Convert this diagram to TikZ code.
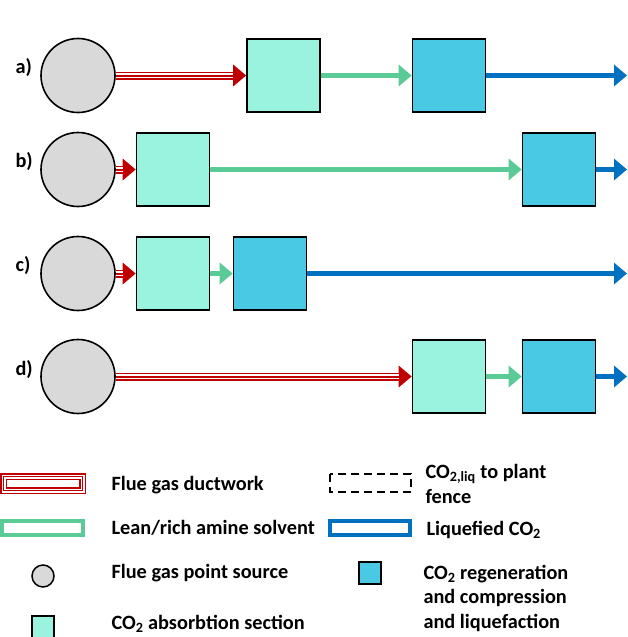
\documentclass[tikz,border=0pt]{standalone}
\usepackage{fontspec}
\setmainfont{Carlito}
\usetikzlibrary{arrows.meta,positioning}
\definecolor{ductred}{RGB}{192,0,0}
\definecolor{solvgreen}{RGB}{90,203,150}
\definecolor{liqblue}{RGB}{0,112,192}
\definecolor{srcgray}{RGB}{217,217,217}
\definecolor{absgreen}{RGB}{153,243,222}
\definecolor{regblue}{RGB}{73,201,227}
\tikzset{>={Triangle[width=21pt,length=13pt]}}
\tikzset{every node/.style={font=\bfseries\fontsize{20.3}{24.5}\selectfont}}
\tikzset{source/.style={shape=circle, draw, line width=1.6pt, fill=srcgray,
    minimum size=74pt, inner sep=0pt}}
\tikzset{absorber/.style={shape=rectangle, draw, line width=1.6pt, fill=absgreen,
    minimum size=73pt, inner sep=0pt}}
\tikzset{regen/.style={absorber, fill=regblue}}
% three-stripe red duct, tip drawn only by the outer pen
\tikzset{duct/.style={draw=ductred, line width=8pt, ->,
    postaction={draw=white, line width=5pt, -, shorten >=13pt},
    postaction={draw=ductred, line width=2pt, -, shorten >=13pt}}}
\tikzset{ductbox/.style={draw=ductred, line width=7pt, fill=white,
    postaction={draw=white, line width=4pt},
    postaction={draw=ductred, line width=1.5pt}}}
\tikzset{solvent/.style={draw=solvgreen, line width=5.5pt, ->}}
\tikzset{liquid/.style={draw=liqblue, line width=5.5pt, ->}}
\tikzset{legbox/.style={fill=white, line width=4pt}}
% multi-line texts sit on the baseline of their last line
\tikzset{legtext/.style={anchor=base west, align=left}}

\begin{document}
\begin{tikzpicture}[x=1pt, y=-1pt]
    \useasboundingbox (0,0) rectangle (628,637);

    % a) absorber and regeneration both far from the source
    \node(rowa) [anchor=base west] at (12,73) {a)};
    \node(srca)[source]   at (78,75.5)    {};
    \node(absa)[absorber] at (283.5,75.5) {};
    \node(rega)[regen]    at (449,75.5)   {};
    \coordinate(enda) at (627,75.5);

    % b) absorber next to the source
    \node(rowb) [anchor=base west] at (12,167) {b)};
    \node(srcb)[source]   at (78,169.5)  {};
    \node(absb)[absorber] at (173,169.5) {};
    \node(regb)[regen]    at (559,169.5) {};
    \coordinate(endb) at (627,169.5);

    % c) everything next to the source
    \node(rowc) [anchor=base west] at (12,271) {c)};
    \node(srcc)[source]   at (78,273.5)  {};
    \node(absc)[absorber] at (173,273.5) {};
    \node(regc)[regen]    at (270,273.5) {};
    \coordinate(endc) at (627,273.5);

    % d) everything far from the source
    \node(rowd) [anchor=base west] at (12,375) {d)};
    \node(srcd)[source]   at (78,376.5)  {};
    \node(absd)[absorber] at (449,376.5) {};
    \node(regd)[regen]    at (559,376.5) {};
    \coordinate(endd) at (627,376.5);

    \draw [duct] (srca) -- (absa);
    \draw [solvent] (absa) -- (rega);
    \draw [liquid] (rega) -- (enda);

    \draw [duct] (srcb) -- (absb);
    \draw [solvent] (absb) -- (regb);
    \draw [liquid] (regb) -- (endb);

    \draw [duct] (srcc) -- (absc);
    \draw [solvent] (absc) -- (regc);
    \draw [liquid] (regc) -- (endc);

    \draw [duct] (srcd) -- (absd);
    \draw [solvent] (absd) -- (regd);
    \draw [liquid] (regd) -- (endd);

    % legend
    \path[ductbox] (3.5,476.5) rectangle (82.5,490.5);
    \draw[legbox, draw=solvgreen] (2,521) rectangle (83,535);
    \draw[legbox, draw=liqblue] (330,521) rectangle (410,535);
    \draw[dashed, line width=1.5pt, dash pattern=on 8pt off 5pt] (330,474) rectangle (411,492);

    \node(keysrc)[source, minimum size=22pt, line width=1.5pt]   at (43,576) {};
    \node(keyabs)[absorber, minimum size=22pt, line width=1.5pt] at (43,627) {};
    \node(keyreg)[regen, minimum size=22pt, line width=1.5pt]    at (370,573) {};

    \node(txtduct)[legtext] at (108,490) {Flue gas ductwork};
    \node(txtsolv)[legtext] at (108,534) {Lean/rich amine solvent};
    \node(txtsrc) [legtext] at (108,578) {Flue gas point source};
    \node(txtabs) [legtext] at (108,629) {CO\textsubscript{2} absorbtion section};
    \node(txtfence)[legtext] at (422,503) {CO\textsubscript{2,liq} to plant\\fence};
    \node(txtliq)  [legtext] at (423,535) {Liquefied CO\textsubscript{2}};
    \node(txtreg)  [legtext] at (420,628) {CO\textsubscript{2} regeneration\\and compression\\and liquefaction};
\end{tikzpicture}
\end{document}
